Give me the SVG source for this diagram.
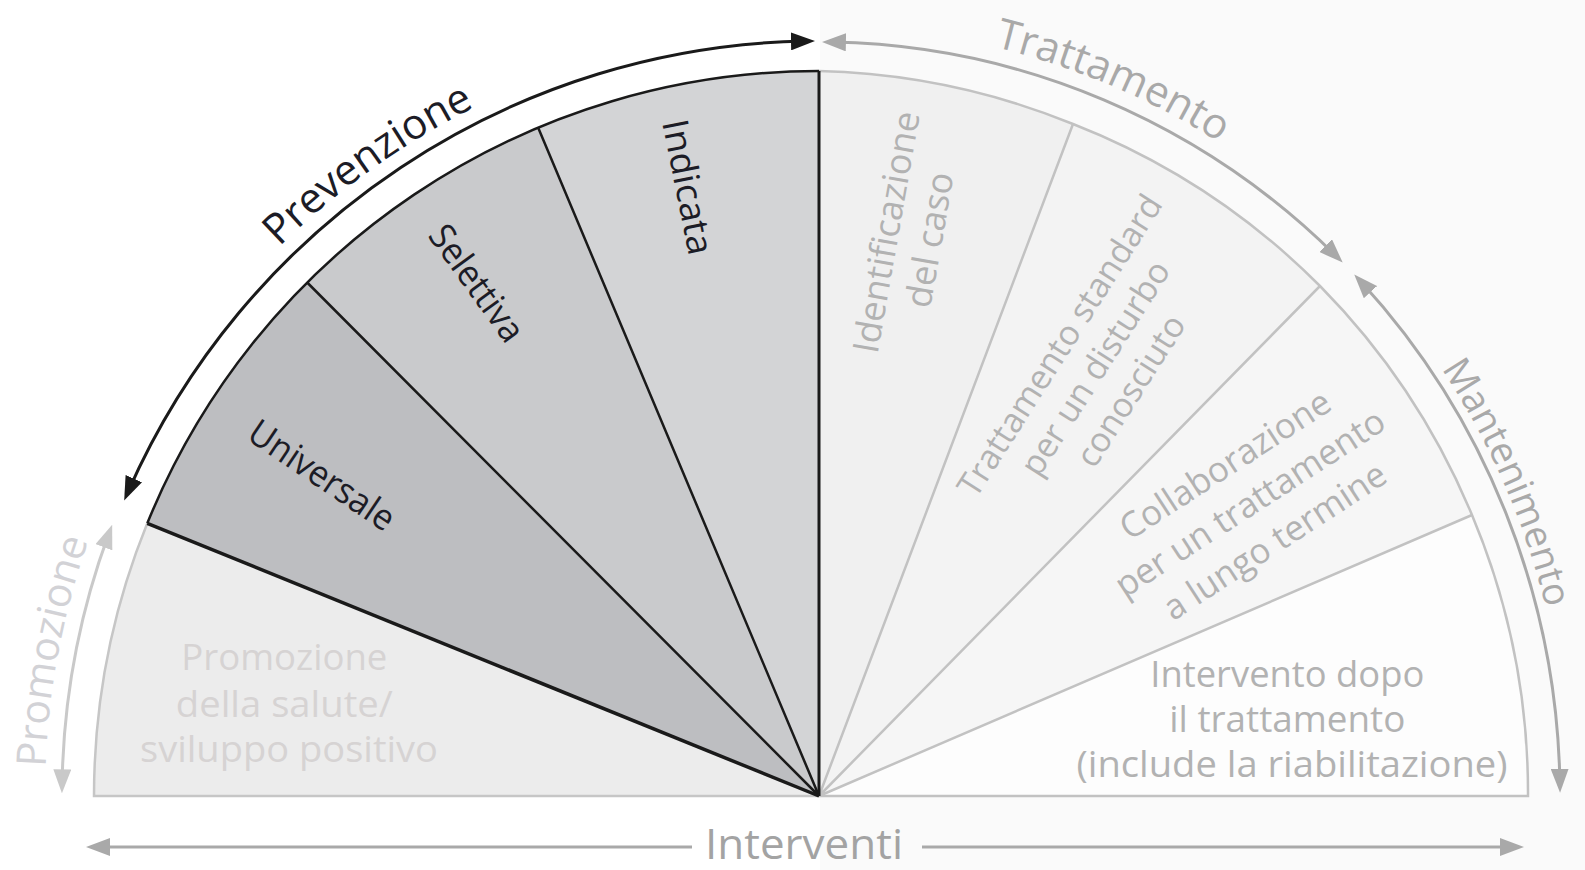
<svg xmlns="http://www.w3.org/2000/svg" width="1585" height="870" viewBox="0 0 1585 870">
<style>
text { font-family: "Open Sans", "Noto Sans", "DejaVu Sans", sans-serif; }
.dark { fill: #1c1c26; }
.gray { fill: #b2b2b2; }
.grayLbl { fill: #a9a9a9; }
.pale { fill: #d6d3d3; }
.paleLbl { fill: #d2d2d6; }
.lineBlack { stroke: #1a1a1a; fill: none; }
.lineGray { stroke: #c2c2c2; fill: none; stroke-width: 2.5; }
.arrBlack { stroke: #1a1a1a; fill: none; stroke-width: 3; }
.arrGray { stroke: #a9a9a9; fill: none; stroke-width: 3; }
.arrPale { stroke: #c9c9c9; fill: none; stroke-width: 3; }
</style>
<defs>
<marker id="ahBlack" viewBox="0 0 24 18" refX="14" refY="9" markerWidth="24" markerHeight="18" markerUnits="userSpaceOnUse" orient="auto-start-reverse"><path d="M0,0 L24,9 L0,18 Z" fill="#1a1a1a"/></marker>
<marker id="ahGray" viewBox="0 0 24 18" refX="14" refY="9" markerWidth="24" markerHeight="18" markerUnits="userSpaceOnUse" orient="auto-start-reverse"><path d="M0,0 L24,9 L0,18 Z" fill="#a9a9a9"/></marker>
<marker id="ahPale" viewBox="0 0 24 18" refX="14" refY="9" markerWidth="24" markerHeight="18" markerUnits="userSpaceOnUse" orient="auto-start-reverse"><path d="M0,0 L24,9 L0,18 Z" fill="#c9c9c9"/></marker>
<path id="arcL" d="M 49 796 A 770 770 0 0 1 1589 796"/>
<path id="arcP" d="M 45 796 A 774 774 0 0 1 1593 796"/>
<path id="arcR" d="M 62 796 A 757 770 0 0 1 1576 796"/>
<path id="arcM" d="M 69 796 A 750 766 0 0 1 1569 796"/>
</defs>

<rect x="0" y="0" width="1585" height="870" fill="#ffffff"/>
<rect x="820" y="0" width="765" height="870" fill="#fafafa"/>

<g id="sector-promozione">
<path d="M 819 796 L 94 796 A 725 725 0 0 1 147.3 523.3 Z" fill="#ececec"/>
<path d="M 147.3 523.3 A 725 725 0 0 0 94 796 L 819 796" stroke="#c6c6c6" stroke-width="2.5" fill="none"/>
<text class="pale" font-size="36" text-anchor="middle">
<tspan x="289" y="670" textLength="206" lengthAdjust="spacingAndGlyphs">Promozione</tspan>
<tspan x="289" y="717" textLength="217" lengthAdjust="spacingAndGlyphs">della salute/</tspan>
<tspan x="289" y="762" textLength="298" lengthAdjust="spacingAndGlyphs">sviluppo positivo</tspan>
</text>
</g>

<g id="sector-universale">
<path d="M 819 796 L 147.3 523.3 A 725 725 0 0 1 307.2 282.5 Z" fill="#bdbec1"/>
<text class="dark" font-size="36" text-anchor="middle" dy="0.35em" transform="translate(322 475) rotate(34)" textLength="168" lengthAdjust="spacingAndGlyphs">Universale</text>
</g>

<g id="sector-selettiva">
<path d="M 819 796 L 307.2 282.5 A 725 725 0 0 1 538.1 127.6 Z" fill="#c9cacc"/>
<text class="dark" font-size="36" text-anchor="middle" dy="0.35em" transform="translate(477 283) rotate(54)" textLength="135" lengthAdjust="spacingAndGlyphs">Selettiva</text>
</g>

<g id="sector-indicata">
<path d="M 819 796 L 538.1 127.6 A 725 725 0 0 1 819 71 Z" fill="#d3d4d6"/>
<text class="dark" font-size="36" text-anchor="middle" dy="0.35em" transform="translate(688 187) rotate(78.6)" textLength="137" lengthAdjust="spacingAndGlyphs">Indicata</text>
</g>

<g id="sector-identificazione">
<path d="M 819 796 L 819 71 A 718 718 0 0 1 1073 124 Z" fill="#f0f0f0"/>
<g transform="translate(908.5 236) rotate(-80)">
<text class="gray" font-size="36" text-anchor="middle"><tspan x="0" y="-10">Identificazione</tspan><tspan x="0" y="34">del caso</tspan></text>
</g>
</g>

<g id="sector-trattamento-standard">
<path d="M 819 796 L 1073 124 A 718 718 0 0 1 1320 286 Z" fill="#f3f3f3"/>
<g transform="translate(1095 368) rotate(-57.5)">
<text class="gray" font-size="34" text-anchor="middle"><tspan x="0" y="-30">Trattamento standard</tspan><tspan x="0" y="12">per un disturbo</tspan><tspan x="0" y="54">conosciuto</tspan></text>
</g>
</g>

<g id="sector-collaborazione">
<path d="M 819 796 L 1320 286 A 718 718 0 0 1 1472 515 Z" fill="#f6f6f6"/>
<g transform="translate(1250 503) rotate(-33)">
<text class="gray" font-size="35" text-anchor="middle"><tspan x="0" y="-33.5">Collaborazione</tspan><tspan x="0" y="12">per un trattamento</tspan><tspan x="0" y="57.5">a lungo termine</tspan></text>
</g>
</g>

<g id="sector-intervento">
<path d="M 819 796 L 1472 515 A 718 718 0 0 1 1528 796 Z" fill="#fdfdfd"/>
<text class="gray" font-size="36" text-anchor="middle">
<tspan x="1292" y="687" textLength="274" lengthAdjust="spacingAndGlyphs">Intervento dopo</tspan>
<tspan x="1292" y="732" textLength="236" lengthAdjust="spacingAndGlyphs">il trattamento</tspan>
<tspan x="1292" y="777" textLength="431" lengthAdjust="spacingAndGlyphs">(include la riabilitazione)</tspan>
</text>
</g>

<g id="outlines">
<path class="lineGray" d="M 819 71 A 718 718 0 0 1 1073 124 A 718 718 0 0 1 1320 286 A 718 718 0 0 1 1472 515 A 718 718 0 0 1 1528 796 L 819 796"/>
<path class="lineGray" d="M 819 796 L 1073 124 M 819 796 L 1320 286 M 819 796 L 1472 515"/>
<path class="lineBlack" stroke="#3a3a3a" stroke-width="2.5" d="M 147.3 523.3 A 725 725 0 0 1 819 71"/>
<path class="lineBlack" stroke-width="2.5" d="M 819 796 L 307.2 282.5 M 819 796 L 538.1 127.6"/>
<path class="lineBlack" stroke-width="3.5" d="M 819 796 L 147.3 523.3"/>
<path class="lineBlack" stroke-width="3" d="M 819 796 L 819 71"/>
</g>

<g id="label-prevenzione">
<text class="dark" font-size="42"><textPath href="#arcL" startOffset="732" text-anchor="middle">Prevenzione</textPath></text>
</g>
<g id="label-trattamento">
<text class="grayLbl" font-size="42"><textPath href="#arcR" startOffset="1499" text-anchor="middle">Trattamento</textPath></text>
</g>
<g id="label-mantenimento">
<text class="grayLbl" font-size="38"><textPath href="#arcM" startOffset="2060" text-anchor="middle">Mantenimento</textPath></text>
</g>
<g id="label-promozione">
<text class="paleLbl" font-size="41"><textPath href="#arcP" startOffset="144.5" text-anchor="middle">Promozione</textPath></text>
</g>
<g id="label-interventi">
<text fill="#a3a3a3" font-size="42" x="804" y="859" text-anchor="middle" textLength="198" lengthAdjust="spacingAndGlyphs">Interventi</text>
</g>

<g id="connectors">
<path class="arrBlack" d="M 128.2 491.4 A 755 755 0 0 1 805.0 41.1" marker-start="url(#ahBlack)" marker-end="url(#ahBlack)"/>
<path class="arrGray" d="M 831.9 42.1 A 741 754 0 0 1 1335.6 255.5" marker-start="url(#ahGray)" marker-end="url(#ahGray)"/>
<path class="arrGray" d="M 1361.0 281.8 A 741 754 0 0 1 1559.9 782.8" marker-start="url(#ahGray)" marker-end="url(#ahGray)"/>
<path class="arrPale" d="M 108.7 534.1 A 757 757 0 0 0 62.1 783.3" marker-start="url(#ahPale)" marker-end="url(#ahPale)"/>
<path class="arrGray" d="M 692 847 L 96 847" marker-end="url(#ahGray)"/>
<path class="arrGray" d="M 922 847 L 1514 847" marker-end="url(#ahGray)"/>
</g>
</svg>
